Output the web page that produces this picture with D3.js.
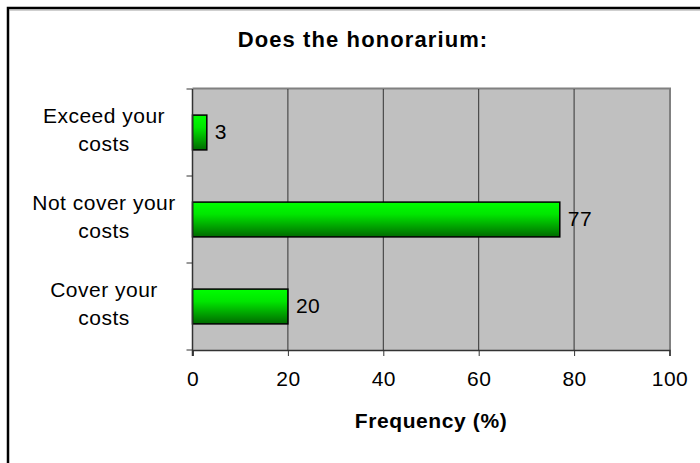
<!DOCTYPE html>
<html>
<head>
<meta charset="utf-8">
<script src="https://cdn.jsdelivr.net/npm/d3@7"></script>
<style>
  body { margin: 0; background: #fff; }
  text { font-family: Arial, "Liberation Sans", sans-serif; fill: #000; }
</style>
</head>
<body>
<svg id="chart" width="700" height="463"></svg>
<script>
// values
var categories = ["Exceed your costs", "Not cover your costs", "Cover your costs"];
var labelLines = [["Exceed your", "costs"], ["Not cover your", "costs"], ["Cover your", "costs"]];
var values = [3, 77, 20];
var xTicks = [0, 20, 40, 60, 80, 100];

var svg = d3.select("#chart");

// outer frame (runs off the right / bottom edge like the picture)
svg.append("rect")
  .attr("x", 8).attr("y", 8)
  .attr("width", 720).attr("height", 480)
  .style("fill", "#fff").style("stroke", "#000").style("stroke-width", 2.5);
svg.append("line")
  .attr("x1", 9).attr("x2", 700).attr("y1", 10).attr("y2", 10)
  .style("stroke", "#a0a0a0").style("stroke-width", 1);

var pLeft = 192.5, pRight = 669.5, pTop = 89, pBottom = 350;

var x = d3.scaleLinear().domain([0, 100]).range([pLeft, pRight]);
var y = d3.scaleBand().domain(categories).range([pTop, pBottom]).paddingInner(0.6).paddingOuter(0.3);
var yb = d3.scaleBand().domain(categories).range([pTop, pBottom]);

// gradient for the bars
var defs = svg.append("defs");
var grad = defs.append("linearGradient").attr("id", "barGrad")
  .attr("x1", 0).attr("y1", 0).attr("x2", 0).attr("y2", 1);
grad.append("stop").attr("offset", "0%").attr("stop-color", "#00ff00");
grad.append("stop").attr("offset", "35%").attr("stop-color", "#00e600");
grad.append("stop").attr("offset", "100%").attr("stop-color", "#006a00");

// plot area
svg.append("rect")
  .attr("x", pLeft).attr("y", pTop)
  .attr("width", pRight - pLeft).attr("height", pBottom - pTop)
  .style("fill", "#c0c0c0");
// top / right edge of plot
svg.append("path")
  .attr("d", "M" + pLeft + "," + (pTop - 0.5) + "H" + (pRight + 0.5) + "V" + pBottom)
  .style("fill", "none").style("stroke", "#808080").style("stroke-width", 2);

// gridlines
svg.selectAll(".grid")
  .data(xTicks.slice(1, -1))
  .enter().append("line")
  .attr("class", "grid")
  .attr("x1", function(d) { return x(d); })
  .attr("x2", function(d) { return x(d); })
  .attr("y1", pTop).attr("y2", pBottom)
  .style("stroke", "#333").style("stroke-width", 1);

// bars
svg.selectAll(".bar")
  .data(values)
  .enter().append("rect")
  .attr("class", "bar")
  .attr("x", x(0))
  .attr("y", function(d, i) { return y(categories[i]); })
  .attr("width", function(d) { return x(d) - x(0); })
  .attr("height", y.bandwidth())
  .style("fill", "url(#barGrad)")
  .style("stroke", "#000").style("stroke-width", 1.5);

// value labels
svg.selectAll(".val")
  .data(values)
  .enter().append("text")
  .attr("class", "val")
  .attr("x", function(d) { return x(d) + 8; })
  .attr("y", function(d, i) { return y(categories[i]) + y.bandwidth() / 2 + 6.5; })
  .style("font-size", "21px").style("letter-spacing", "0.5px")
  .text(function(d) { return d; });

// x axis
var xAxis = svg.append("g")
  .attr("transform", "translate(0," + pBottom + ")")
  .call(d3.axisBottom(x).tickValues(xTicks).tickSize(6));
xAxis.select(".domain").style("stroke", "#333").style("stroke-width", 1.5);
xAxis.selectAll(".tick line").style("stroke", "#333");
xAxis.selectAll("text")
  .attr("y", 36).attr("dy", 0)
  .attr("fill", "#000")
  .style("font-size", "21px").style("letter-spacing", "0.5px")
  .style("font-family", "Arial, 'Liberation Sans', sans-serif");

// y axis (ticks between categories)
svg.append("line")
  .attr("x1", pLeft).attr("x2", pLeft).attr("y1", pTop).attr("y2", pBottom + 6)
  .style("stroke", "#333").style("stroke-width", 1.5);
svg.selectAll(".ytick")
  .data(categories)
  .enter().append("line")
  .attr("class", "ytick")
  .attr("x1", pLeft - 6).attr("x2", pLeft)
  .attr("y1", function(d) { return yb(d) + yb.bandwidth(); })
  .attr("y2", function(d) { return yb(d) + yb.bandwidth(); })
  .style("stroke", "#333");
svg.append("line")
  .attr("x1", pLeft - 6).attr("x2", pLeft).attr("y1", pTop).attr("y2", pTop)
  .style("stroke", "#333");

// category labels
var cat = svg.selectAll(".cat")
  .data(categories)
  .enter().append("text")
  .attr("class", "cat")
  .attr("text-anchor", "middle")
  .style("font-size", "21px").style("letter-spacing", "0.5px");
cat.each(function(d, i) {
  var lines = labelLines[i];
  var cy = yb(d) + yb.bandwidth() / 2;
  d3.select(this).selectAll("tspan")
    .data(lines)
    .enter().append("tspan")
    .attr("x", 104)
    .attr("y", function(l, j) { return cy - 9.5 + j * 27.5; })
    .text(function(l) { return l; });
});

// titles
svg.append("text")
  .attr("x", 363).attr("y", 47)
  .attr("text-anchor", "middle")
  .style("font-size", "22px").style("font-weight", "bold").style("letter-spacing", "1.1px")
  .text("Does the honorarium:");
svg.append("text")
  .attr("x", (pLeft + pRight) / 2).attr("y", 428)
  .attr("text-anchor", "middle")
  .style("font-size", "21px").style("font-weight", "bold").style("letter-spacing", "0.6px")
  .text("Frequency (%)");
</script>
</body>
</html>
